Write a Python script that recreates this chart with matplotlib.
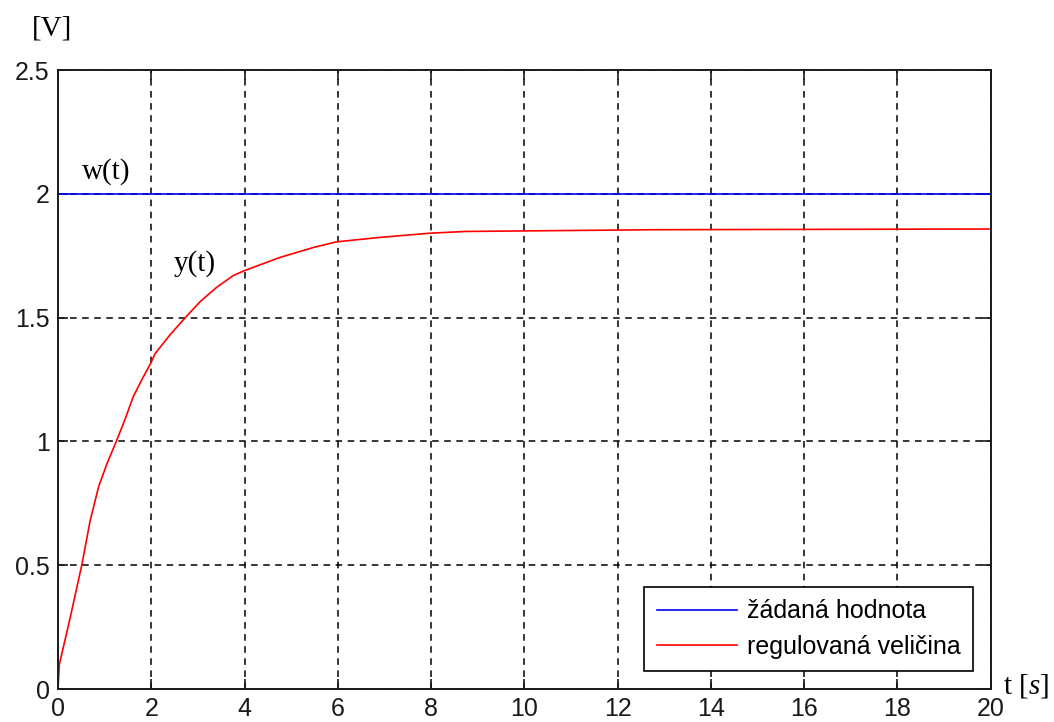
import numpy as np
import matplotlib
matplotlib.use('Agg')
import matplotlib.pyplot as plt

plt.rcParams['font.family'] = ['Liberation Sans', 'DejaVu Sans']
plt.rcParams['mathtext.fontset'] = 'custom'
plt.rcParams['mathtext.it'] = 'Liberation Serif:italic'
plt.rcParams['mathtext.rm'] = 'Liberation Serif'

# step response of the control loop
t = [0, 0.03, 0.25, 0.51, 0.69, 0.87, 1.05, 1.25, 1.43, 1.61, 1.80, 2.0, 2.08,
     2.4, 2.73, 3.05, 3.4, 3.76, 4.0, 4.76, 5.47, 5.97, 6.9, 7.98, 8.73,
     12.77, 20]
y = [0, 0.10, 0.278, 0.5, 0.68, 0.816, 0.91, 1.0, 1.085, 1.179, 1.25, 1.32,
     1.354, 1.43, 1.5, 1.565, 1.622, 1.67, 1.69, 1.743, 1.783, 1.806, 1.824,
     1.841, 1.848, 1.855, 1.858]
w_t = [0, 20]
w = [2, 2]

xticks = np.arange(0, 21, 2)
yticks = [0, 0.5, 1, 1.5, 2, 2.5]
ytick_labels = ['0', '0.5', '1', '1.5', '2', '2.5']

fig = plt.figure(figsize=(10.54, 7.22), dpi=100)
ax = fig.add_axes([0.055, 0.0457, 0.885, 0.8573])

ax.plot(w_t, w, color='#0000ff', lw=1.2, label=u'žádaná hodnota')
ax.plot(t, y, color='#ff0000', lw=1.2, label=u'regulovaná veličina')

ax.set_xlim(0, 20)
ax.set_ylim(0, 2.5)
ax.set_xticks(xticks)
ax.set_yticks(yticks)
ax.set_yticklabels(ytick_labels)
ax.grid(True, color='black', linestyle=(0, (4.3, 3.6)), lw=1.1)
ax.tick_params(direction='in', length=7, width=1.2, labelsize=18,
               top=True, right=True, pad=6, colors='#1a1a1a')
for s in ax.spines.values():
    s.set_linewidth(1.4)
    s.set_color('#1a1a1a')

serif = ['Liberation Serif', 'DejaVu Serif']
ax.text(0.51, 2.06, 'w(t)', fontsize=21, family=serif, va='baseline')
ax.text(2.47, 1.69, 'y(t)', fontsize=21, family=serif, va='baseline')
fig.text(32 / 1054, 1 - 28 / 722, '[V]', fontsize=21, family=serif,
         va='center', ha='left')
fig.text(1003 / 1054, 1 - 686 / 722, r't [$s$]', fontsize=21, family=serif,
         va='center', ha='left')

leg = ax.legend(loc='lower right', fontsize=18, fancybox=False,
                edgecolor='black', framealpha=1, handlelength=3.2,
                handletextpad=0.4, borderaxespad=0.72, labelspacing=0.45,
                borderpad=0.5)
leg.get_frame().set_linewidth(1.2)

fig.savefig('out.png', dpi=100)
